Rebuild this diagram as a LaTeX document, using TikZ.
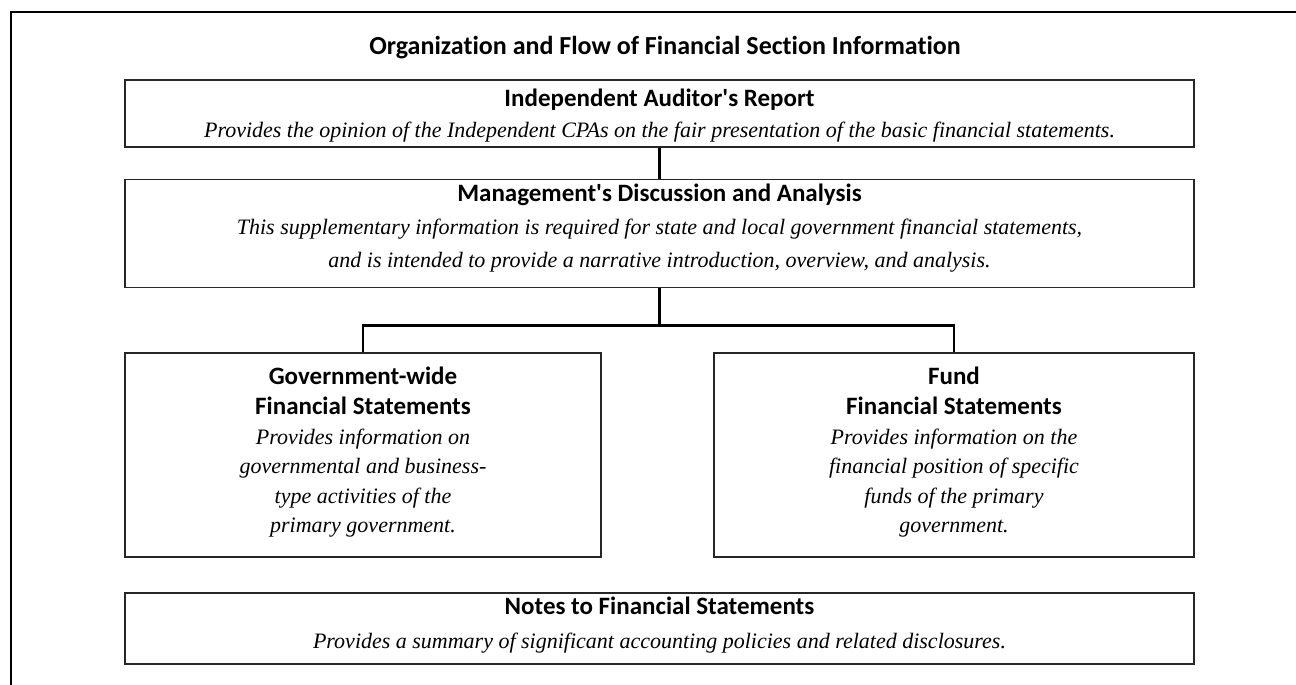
\documentclass[tikz,border=0pt]{standalone}
\usepackage{fontspec}
\setmainfont{Liberation Serif}
\setsansfont[Ligatures=NoCommon]{Carlito}
\usetikzlibrary{positioning}
\tikzset{box/.style 2 args={draw=black!85,line width=1.6pt,align=center,inner sep=0pt,
  minimum width=#1pt,minimum height=#2pt}}
\tikzset{link/.style={line width=2.6pt}}
\tikzset{frame/.style={line width=2pt}}
\newcommand{\hd}[1]{{\sffamily\bfseries\upshape\fontsize{25}{25}\selectfont #1}}
\newcommand{\lead}[1]{\fontsize{22}{#1}\selectfont\itshape}

\begin{document}
\begin{tikzpicture}[x=1pt,y=-1pt]
  \useasboundingbox (0,0) rectangle (1296,685);
  \draw[frame] (11,685) -- (11,12) -- (1296,12);
  \node[font=\fontsize{26}{26}\selectfont] (title) at (665,48)
    {\sffamily\bfseries Organization and Flow of Financial Section Information};
  \node[box={1069}{67},font=\lead{31},text depth=0pt] (aud) at (659.5,113.5)
    {\hd{Independent Auditor\textquotesingle s Report}\\
     Provides the opinion of the Independent CPAs on the fair presentation of the basic financial statements.};
  \node[box={1069}{108},font=\lead{33},text depth=15pt,below=31pt of aud] (mda)
    {\hd{Management\textquotesingle s Discussion and Analysis}\\
     This supplementary information is required for state and local government financial statements,\\
     and is intended to provide a narrative introduction, overview, and analysis.};
  \node[box={476}{204},font=\lead{29.6},text depth=10pt,below right=64pt and 0pt of mda.south west] (gov)
    {\hd{Government-wide}\\ \hd{Financial Statements}\\
     Provides information on\\ governmental and business-\\ type activities of the\\ primary government.};
  \node[box={480}{204},font=\lead{29.6},text depth=10pt,below left=64pt and 0pt of mda.south east] (fund)
    {\hd{Fund}\\ \hd{Financial Statements}\\
     Provides information on the\\ financial position of specific\\ funds of the primary\\ government.};
  \node[box={1069}{71},font=\lead{34},text depth=11pt,below right=34pt and 0pt of gov.south west] (notes)
    {\hd{Notes to Financial Statements}\\
     Provides a summary of significant accounting policies and related disclosures.};
  \draw[link] (aud) -- (mda);
  \draw[link] (mda.south) -- ++(0,37) coordinate (hub);
  \draw[link] (gov.north) |- (hub) -| (fund.north);
\end{tikzpicture}
\end{document}
